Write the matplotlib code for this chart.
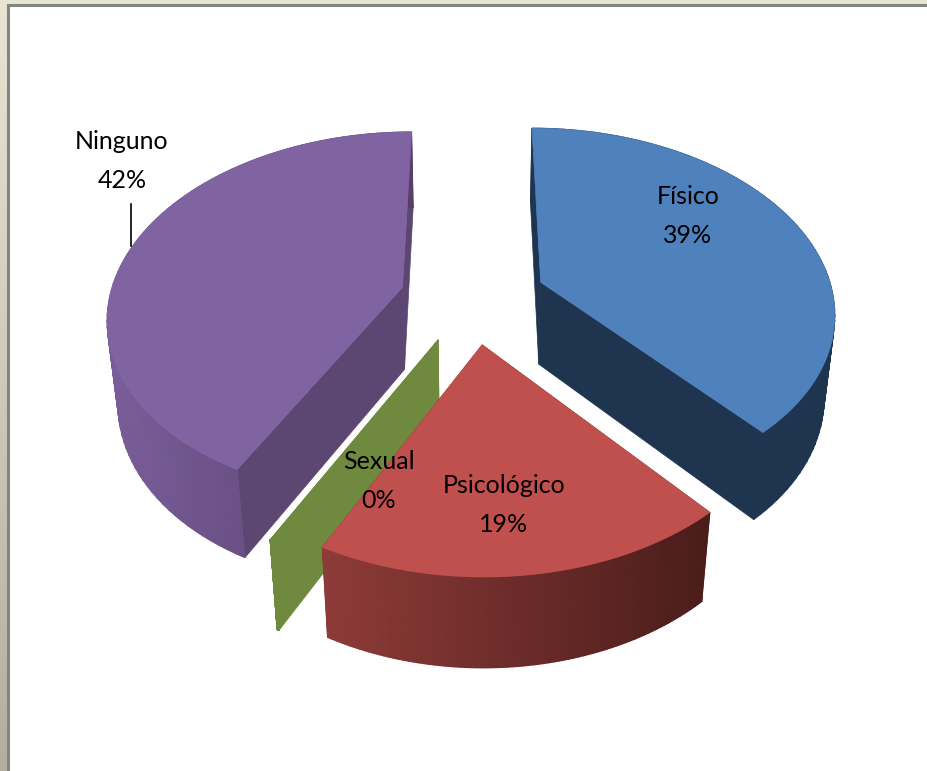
#!/usr/bin/env python3
import numpy as np
from matplotlib import pyplot
from matplotlib.colors import LinearSegmentedColormap
from matplotlib.patches import Polygon, Rectangle

names = ['Físico', 'Psicológico', 'Sexual', 'Ninguno']
values = [38.6, 18.95, 0.1, 42.35]
shown = ['39%', '19%', '0%', '42%']
top_colors = ['#4F81BD', '#C0504D', '#6F8A3F', '#8064A2']
face_colors = ['#1F344F', '#6E2F2D', '#6F8A3F', '#5C4672']
rim_left = ['#1F344F', '#8E3B38', '#6F8A3F', '#7A5E9A']
rim_right = ['#1F344F', '#4A1D1B', '#6F8A3F', '#563F6B']

# projection of the pie, in pixels
CX, CY = 473, 298
R = 293
TILT = 0.62
PERSP = 0.15
DEPTH = 85
SHRINK = 0.03
EXPLODE = 0.25
START = 0


def project(u, v, z):
    w = 1 - PERSP * v + SHRINK * z
    return CX + R * u / w, CY + (R * TILT * v + DEPTH * z) / w


def rim(mid, a0, a1, z):
    t = np.radians(np.linspace(a0, a1, 80))
    ou = EXPLODE * np.sin(np.radians(mid))
    ov = -EXPLODE * np.cos(np.radians(mid))
    x, y = project(ou + np.sin(t), ov - np.cos(t), z)
    return np.column_stack([x, y])


def apex(mid, z):
    ou = EXPLODE * np.sin(np.radians(mid))
    ov = -EXPLODE * np.cos(np.radians(mid))
    return np.array(project(ou, ov, z))


def draw_slice(ax, i, a0, a1):
    mid = (a0 + a1) / 2
    top = rim(mid, a0, a1, 0)
    bottom = rim(mid, a0, a1, 1)
    a_top = apex(mid, 0)
    a_bot = apex(mid, 1)

    # the two cut faces
    for k in (0, -1):
        ax.add_patch(Polygon([a_top, top[k], bottom[k], a_bot],
                             fc=face_colors[i], ec=face_colors[i], lw=0.5))
    # outer wall, smooth shading from left to right
    cmap = LinearSegmentedColormap.from_list('rim', [rim_left[i], rim_right[i]])
    mesh_x = np.column_stack([top[:, 0], bottom[:, 0]])
    mesh_y = np.column_stack([top[:, 1], bottom[:, 1]])
    ax.pcolormesh(mesh_x, mesh_y, mesh_x, shading='gouraud', cmap=cmap)
    ax.add_patch(Polygon(np.vstack([a_top, top]), fc=top_colors[i],
                         ec=top_colors[i], lw=0.5))


def main():
    fig = pyplot.figure(figsize=(9.28, 7.71), dpi=100)
    ax = fig.add_axes([0, 0, 1, 1])
    ax.axis('off')

    # slide background behind the chart
    cmap = LinearSegmentedColormap.from_list('bg', ['#E9E5D3', '#B3AFA0'])
    ax.imshow(np.linspace(0, 1, 256).reshape(-1, 1), cmap=cmap, aspect='auto',
              extent=(0, 928, 771, 0), zorder=0)
    ax.add_patch(Rectangle((8, 5), 930, 780, fc='white', ec='#85857F', lw=2.2,
                           zorder=0.5))

    total = sum(values)
    angles = [START]
    for val in values:
        angles.append(angles[-1] + val / total * 360)

    # back slices first
    for i in (3, 0, 2, 1):
        draw_slice(ax, i, angles[i], angles[i + 1])

    ax.set_xlim(0, 928)
    ax.set_ylim(771, 0)

    font = dict(family=['Lato', 'DejaVu Sans'], fontsize=18, ha='center',
                va='center', color='black', zorder=5)
    spots = {0: (688, 216), 1: (504, 505), 2: (379, 481), 3: (122, 161)}
    for i, (x, y) in spots.items():
        ax.text(x, y, names[i] + '\n' + shown[i], linespacing=1.85, **font)
    ax.plot([131, 131], [204, 246], color='black', lw=1.2, zorder=5)

    fig.savefig('out.png', dpi=100)


if __name__ == '__main__':
    main()
